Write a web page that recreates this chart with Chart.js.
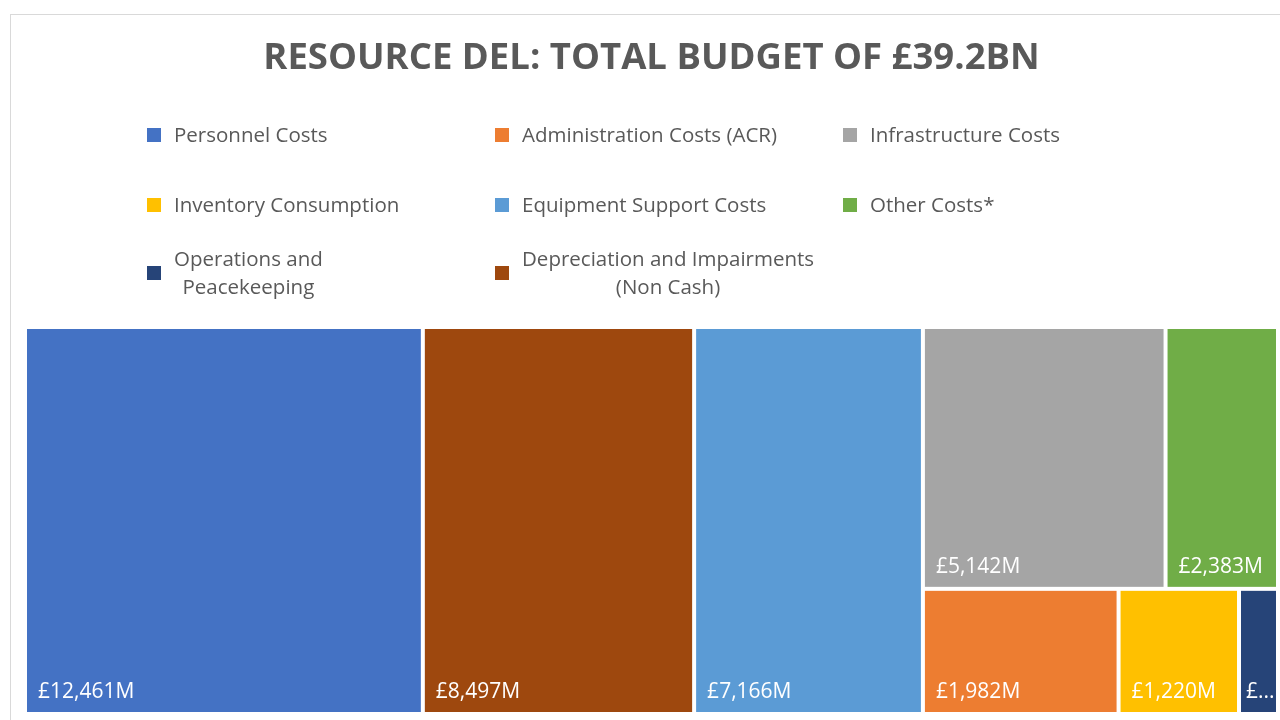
<!DOCTYPE html>
<html>
<head>
<meta charset="utf-8">
<script src="https://cdn.jsdelivr.net/npm/chart.js@4/dist/chart.umd.min.js"></script>
<style>
  html, body { margin: 0; padding: 0; background: #ffffff; }
  #wrap { width: 1280px; height: 720px; position: relative; }
</style>
</head>
<body>
<div id="wrap"><canvas id="c" width="1280" height="720"></canvas></div>
<script>
// ---- data ----
const titleText = 'RESOURCE DEL: TOTAL BUDGET OF £39.2BN';
const categories = [
  'Personnel Costs',
  'Administration Costs (ACR)',
  'Infrastructure Costs',
  'Inventory Consumption',
  'Equipment Support Costs',
  'Other Costs*',
  'Operations and Peacekeeping',
  'Depreciation and Impairments (Non Cash)'
];
const legendLines = [
  ['Personnel Costs'],
  ['Administration Costs (ACR)'],
  ['Infrastructure Costs'],
  ['Inventory Consumption'],
  ['Equipment Support Costs'],
  ['Other Costs*'],
  ['Operations and', 'Peacekeeping'],
  ['Depreciation and Impairments', '(Non Cash)']
];
const values = [12461, 1982, 5142, 1220, 7166, 2383, 395, 8497];
const colors = ['#4472C4', '#ED7D31', '#A5A5A5', '#FFC000', '#5B9BD5', '#70AD47', '#264478', '#9E480E'];

// ---- treemap layout (normalized units, aspect-aware) ----
function layoutTreemap(vals, aspect) {
  const items = vals.map((v, i) => ({ v, i })).sort((a, b) => b.v - a.v);
  const out = [];
  let x = 0, y = 0, w = 1, h = 1;
  let total = items.reduce((s, it) => s + it.v, 0);
  let idx = 0;
  while (idx < items.length) {
    const wide = (w * aspect) >= h;
    const ratioFor = (k) => {
      let sum = 0;
      for (let j = idx; j < idx + k; j++) sum += items[j].v;
      const first = items[idx].v;
      let a, b;
      if (wide) {
        a = (sum / total) * w * aspect;
        b = (first / sum) * h;
      } else {
        b = (sum / total) * h;
        a = (first / sum) * w * aspect;
      }
      return Math.max(a / b, b / a);
    };
    let k = 1;
    let best = ratioFor(1);
    while (idx + k < items.length) {
      const r = ratioFor(k + 1);
      if (r < best) { best = r; k++; } else break;
    }
    let sum = 0;
    for (let j = idx; j < idx + k; j++) sum += items[j].v;
    if (wide) {
      const cw = (sum / total) * w;
      let cy = y;
      for (let j = idx; j < idx + k; j++) {
        const ch = (items[j].v / sum) * h;
        out.push({ i: items[j].i, x0: x, y0: cy, x1: x + cw, y1: cy + ch });
        cy += ch;
      }
      x += cw; w -= cw;
    } else {
      const rh = (sum / total) * h;
      let cx = x;
      for (let j = idx; j < idx + k; j++) {
        const cw = (items[j].v / sum) * w;
        out.push({ i: items[j].i, x0: cx, y0: y, x1: cx + cw, y1: y + rh });
        cx += cw;
      }
      y += rh; h -= rh;
    }
    total -= sum;
    idx += k;
  }
  return out;
}

function fmt(v) { return '£' + v.toLocaleString('en-GB') + 'M'; }

const treemapPlugin = {
  id: 'treemapDraw',
  beforeDraw(chart) {
    const ctx = chart.ctx;
    ctx.save();
    ctx.fillStyle = '#ffffff';
    ctx.fillRect(0, 0, chart.width, chart.height);
    ctx.strokeStyle = '#d9d9d9';
    ctx.lineWidth = 1;
    ctx.strokeRect(10.5, 14.5, 1400, 800);
    ctx.restore();
  },
  afterDatasetsDraw(chart) {
    const ctx = chart.ctx;
    const xs = chart.scales.x, ys = chart.scales.y;
    const ca = chart.chartArea;
    const aspect = (ca.right - ca.left) / (ca.bottom - ca.top);
    const ds = chart.data.datasets[0];
    const rects = layoutTreemap(ds.data, aspect);
    const gap = 2;
    ctx.save();
    rects.forEach(r => {
      const L = xs.getPixelForValue(r.x0) + gap;
      const R = xs.getPixelForValue(r.x1) - gap;
      const T = ys.getPixelForValue(r.y0) + gap;
      const B = ys.getPixelForValue(r.y1) - gap;
      ctx.fillStyle = ds.backgroundColor[r.i];
      ctx.fillRect(L, T, R - L, B - T);
      ctx.font = '21px "Open Sans"';
      ctx.fillStyle = '#ffffff';
      ctx.textBaseline = 'alphabetic';
      ctx.textAlign = 'left';
      let txt = fmt(ds.data[r.i]);
      let pad = 11;
      if (ctx.measureText(txt).width > (R - L) - pad - 2) {
        pad = 5;
        const avail = (R - L) - pad - 1;
        let n = txt.length - 1;
        while (n > 1 && ctx.measureText(txt.slice(0, n) + '...').width > avail) n--;
        txt = txt.slice(0, n) + '...';
      }
      ctx.save();
      ctx.beginPath();
      ctx.rect(L, T, R - L, B - T);
      ctx.clip();
      ctx.fillText(txt, L + pad, B - 14);
      ctx.restore();
    });
    ctx.restore();
  },
  afterDraw(chart) {
    const ctx = chart.ctx;
    const colX = [147, 495, 843];
    const rowY = [135, 205, 273];
    ctx.save();
    ctx.font = '20.5px "Open Sans"';
    ctx.textBaseline = 'middle';
    legendLines.forEach((lines, i) => {
      const cx = colX[i % 3], cy = rowY[Math.floor(i / 3)];
      ctx.fillStyle = chart.data.datasets[0].backgroundColor[i];
      ctx.fillRect(cx, cy - 7, 14, 14);
      ctx.fillStyle = '#595959';
      const tx = cx + 27;
      if (lines.length === 1) {
        ctx.textAlign = 'left';
        ctx.fillText(lines[0], tx, cy + 1);
      } else {
        const mw = Math.max(...lines.map(l => ctx.measureText(l).width));
        ctx.textAlign = 'center';
        const lh = 28;
        lines.forEach((l, k) => {
          ctx.fillText(l, tx + mw / 2, cy + 1 + (k - (lines.length - 1) / 2) * lh);
        });
      }
    });
    ctx.restore();
  }
};

new Chart(document.getElementById('c'), {
  type: 'scatter',
  data: {
    labels: categories,
    datasets: [{
      label: 'Resource DEL',
      data: values,
      backgroundColor: colors,
      pointRadius: 0,
      showLine: false
    }]
  },
  options: {
    responsive: false,
    animation: false,
    events: [],
    layout: { padding: { left: 25, right: 2, top: 0, bottom: 6 } },
    scales: {
      x: { type: 'linear', min: 0, max: 1, display: false },
      y: { type: 'linear', min: 0, max: 1, reverse: true, display: false }
    },
    plugins: {
      legend: { display: false },
      tooltip: { enabled: false },
      title: {
        display: true,
        text: titleText,
        color: '#595959',
        font: { family: 'Open Sans', size: 36.5, weight: 'bold', lineHeight: 1.2 },
        padding: { top: 37, bottom: 246.2 }
      }
    }
  },
  plugins: [treemapPlugin]
});
</script>
</body>
</html>
